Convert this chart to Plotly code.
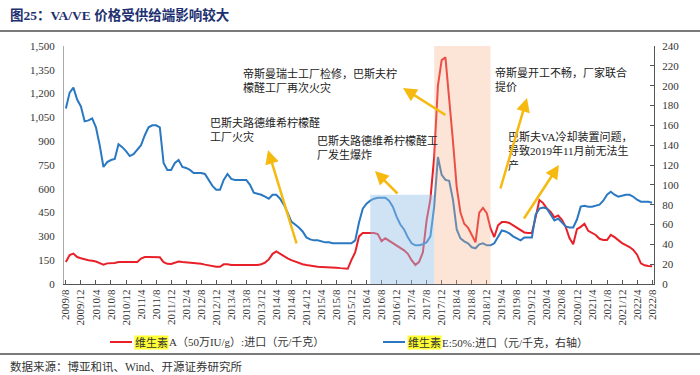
import plotly.graph_objects as go

# ---- data ----
start_year, start_month, n_months = 2009, 8, 157
months = []
y, m = start_year, start_month
for _ in range(n_months):
    months.append(f"{y}/{m}")
    m += 1
    if m > 12:
        m = 1
        y += 1
tick_labels = months[::4]

va_price = [139, 183, 192, 170, 162, 155, 150, 147, 142, 132, 122, 130, 132, 132, 139, 139, 139, 139, 139, 139,
            160, 170, 170, 170, 170, 168, 138, 127, 126, 135, 142, 139, 137, 135, 132, 130, 127, 122, 117, 113,
            109, 108, 124, 125, 120, 120, 118, 119, 120, 120, 120, 120, 125, 135, 155, 190, 205, 190, 172, 162,
            150, 141, 133, 125, 120, 115, 111, 108, 107, 107, 107, 105, 103, 100, 98, 96, 152, 200, 300, 321,
            321, 321, 321, 315, 270, 288, 272, 258, 245, 228, 212, 190, 150, 120, 140, 200, 403, 535, 800, 1250,
            1411, 1428, 1180, 900, 611, 450, 380, 355, 310, 262, 450, 480, 447, 350, 296, 370, 390, 390, 385, 370,
            355, 335, 325, 321, 321, 420, 529, 510, 475, 455, 420, 432, 405, 360, 290, 250, 346, 360, 380, 335,
            320, 309, 285, 277, 277, 310, 295, 275, 258, 245, 233, 215, 185, 130, 118, 113, 112]

ve_price = [177, 193, 198, 186, 179, 164, 165, 167, 158, 140, 118, 123, 125, 126, 141, 138, 134, 129, 131, 135,
            140, 150, 158, 160, 160, 158, 122, 115, 115, 122, 125, 118, 117, 115, 112, 112, 112, 111, 105, 99,
            95, 95, 105, 111, 106, 105, 105, 105, 105, 100, 92, 91, 90, 88, 86, 90, 90, 86, 80, 72,
            63, 60, 57, 53, 47, 45, 44, 44, 43, 42, 42, 41, 41, 41, 41, 41, 41, 44, 62, 76,
            81, 84, 86, 87, 87, 87, 84, 78, 68, 60, 55, 47, 41, 39, 39, 40, 42, 48, 78, 128,
            110, 105, 104, 85, 55, 46, 43, 41, 37, 36, 40, 41, 39, 39, 41, 48, 54, 53, 51, 48,
            46, 44, 47, 47, 47, 70, 76, 77, 76, 70, 64, 66, 62, 58, 57, 57, 65, 78, 79, 78,
            78, 79, 80, 84, 90, 93, 90, 88, 89, 90, 90, 88, 85, 83, 83, 83, 82]

va_name = "维生素A（50万IU/g）:进口（元/千克）"
ve_name = "维生素E:50%:进口（元/千克，右轴）"

# ---- geometry helpers (pixel -> paper) ----
L, R, T, B = 64, 654, 46, 284
def px(x):
    return (x - L) / (R - L)
def py(y):
    return (B - y) / (B - T)

FONT = "Liberation Serif, Noto Sans CJK SC, serif"
RED = "#e8202a"
BLUE = "#2a78c2"
GOLD = "#f5b90f"
SEP = "#7a7a7a"

fig = go.Figure()
fig.add_trace(go.Scatter(x=months, y=va_price, mode="lines", name=va_name,
                         line=dict(color=RED, width=2), yaxis="y"))
fig.add_trace(go.Scatter(x=months, y=ve_price, mode="lines", name=ve_name,
                         line=dict(color=BLUE, width=2), yaxis="y2"))

shapes = [
    dict(type="rect", xref="x", yref="y2", x0="2016/5", x1="2017/10", y0=0, y1=90,
         fillcolor="rgb(150,192,232)", opacity=0.45, line=dict(width=0), layer="above"),
    dict(type="rect", xref="x", yref="paper", x0="2017/10", x1="2019/1", y0=0, y1=1,
         fillcolor="rgb(246,176,130)", opacity=0.33, line=dict(width=0), layer="above"),
    # legend samples
    dict(type="line", xref="paper", yref="paper", x0=px(110), x1=px(132), y0=py(342), y1=py(342),
         line=dict(color=RED, width=2)),
    dict(type="line", xref="paper", yref="paper", x0=px(383), x1=px(405), y0=py(342), y1=py(342),
         line=dict(color=BLUE, width=2)),
    # page separators
    dict(type="line", xref="paper", yref="paper", x0=px(0), x1=px(700), y0=py(31), y1=py(31),
         line=dict(color=SEP, width=2)),
    dict(type="line", xref="paper", yref="paper", x0=px(0), x1=px(700), y0=py(354), y1=py(354),
         line=dict(color=SEP, width=2)),
]

ann = []
def text(x, y, s, size=11, color="#222", **kw):
    ann.append(dict(xref="paper", yref="paper", x=px(x), y=py(y), text=s, showarrow=False,
                    xanchor="left", yanchor="top", align="left",
                    font=dict(family=FONT, size=size, color=color), **kw))

text(241, 65, "帝斯曼瑞士工厂检修，巴斯夫柠<br>檬醛工厂再次火灾")
text(208, 114, "巴斯夫路德维希柠檬醛<br>工厂火灾")
text(315, 132, "巴斯夫路德维希柠檬醛工<br>厂发生爆炸")
text(493, 64, "帝斯曼开工不畅，厂家联合<br>提价")
text(506, 129, "巴斯夫VA冷却装置问题，<br>导致2019年11月前无法生<br>产")

def arrow(tx, ty, hx, hy):
    ann.append(dict(xref="paper", yref="paper", x=px(hx), y=py(hy), ax=tx - hx, ay=ty - hy,
                    axref="pixel", ayref="pixel", text="", showarrow=True,
                    arrowhead=2, arrowsize=1.1, arrowwidth=2.5, arrowcolor=GOLD, standoff=0))

arrow(297, 245, 268, 150)
arrow(399, 195, 375, 171)
arrow(447, 116, 403, 88)
arrow(500, 190, 527, 98)
arrow(523, 220, 559, 165)

# legend texts with highlighted part
LEG = 11
def legend_text(x, y, hl, rest):
    ann.append(dict(xref="paper", yref="paper", x=px(x), y=py(y), text=hl, showarrow=False,
                    xanchor="left", yanchor="middle", bgcolor="#ffff33", borderpad=0,
                    font=dict(family=FONT, size=LEG, color="#333")))
    ann.append(dict(xref="paper", yref="paper", x=px(x + 3 * LEG), y=py(y), text=rest, showarrow=False,
                    xanchor="left", yanchor="middle",
                    font=dict(family=FONT, size=LEG, color="#333")))

legend_text(134, 342, va_name[:3], va_name[3:])
legend_text(407, 342, ve_name[:3], ve_name[3:])

# title and source
ann.append(dict(xref="paper", yref="paper", x=px(8), y=py(15), text="<b>图25：VA/VE 价格受供给端影响较大</b>",
                showarrow=False, xanchor="left", yanchor="middle",
                font=dict(family=FONT, size=13.5, color="#1d3070")))
ann.append(dict(xref="paper", yref="paper", x=px(8), y=py(366), text="数据来源：博亚和讯、Wind、开源证券研究所",
                showarrow=False, xanchor="left", yanchor="middle",
                font=dict(family=FONT, size=11.5, color="#333")))

fig.update_layout(
    width=700, height=375,
    margin=dict(l=L, r=700 - R, t=T, b=375 - B),
    paper_bgcolor="white", plot_bgcolor="white",
    showlegend=False,
    font=dict(family=FONT, size=11, color="#333"),
    shapes=shapes, annotations=ann,
    xaxis=dict(type="category", tickmode="array", tickvals=tick_labels, ticktext=tick_labels,
               tickangle=-90, ticks="inside", ticklen=4, tickcolor="#555",
               showline=True, linecolor="#555", linewidth=1, showgrid=False,
               tickfont=dict(family=FONT, size=11, color="#333"), range=[-0.5, n_months - 0.5]),
    yaxis=dict(range=[0, 1500], dtick=150, tickformat=",", showgrid=False, zeroline=False,
               showline=True, linecolor="#aaaaaa", linewidth=1, ticks="", ticklabelstandoff=6,
               tickfont=dict(family=FONT, size=11, color="#333")),
    yaxis2=dict(range=[0, 240], dtick=20, overlaying="y", side="right", showgrid=False,
                zeroline=False, showline=True, linecolor="#555", linewidth=1,
                ticks="inside", ticklen=4, tickcolor="#555", ticklabelstandoff=5,
                tickfont=dict(family=FONT, size=11, color="#333")),
)

fig.write_html("out.html", config={"displayModeBar": False},
               post_script="document.body.style.margin='0';document.body.style.overflow='hidden';")
